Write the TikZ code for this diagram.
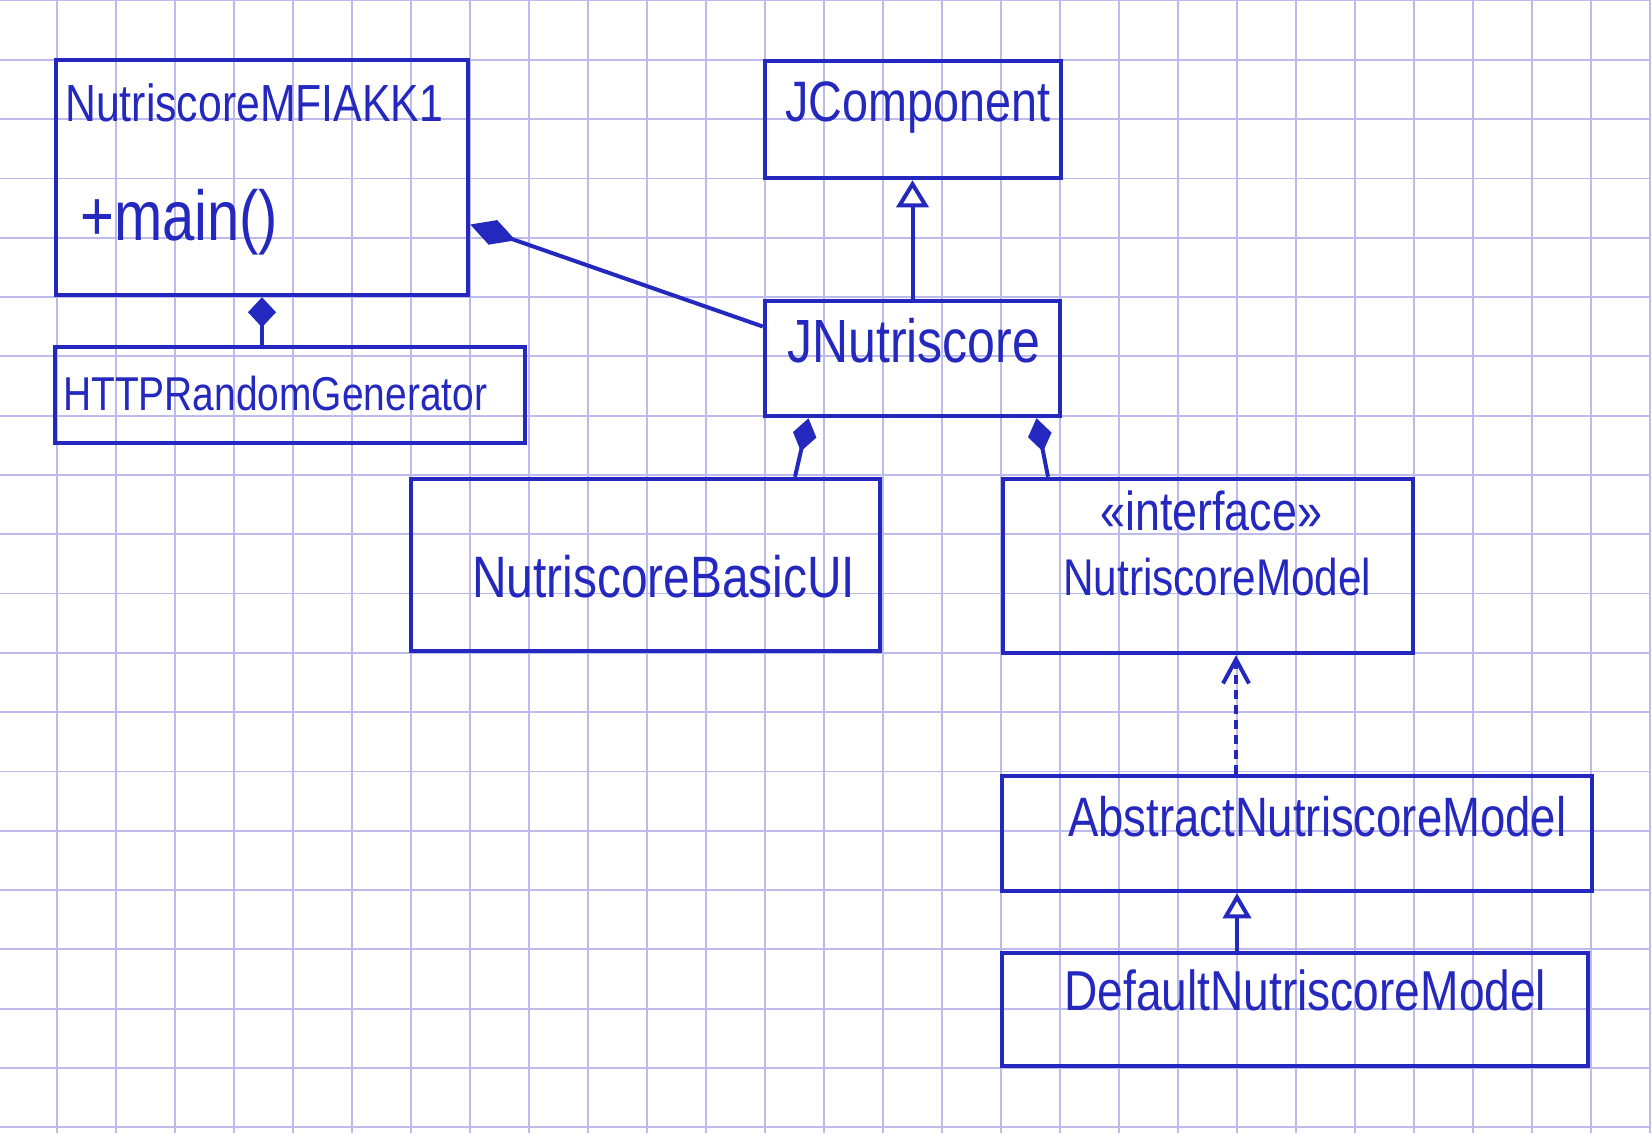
\documentclass[tikz,border=0pt]{standalone}
\usepackage{fontspec}
\setmainfont{Liberation Sans}
\usepackage{graphicx}
\usetikzlibrary{arrows.meta}
\definecolor{ink}{RGB}{36,40,190}
\definecolor{gridc}{RGB}{190,186,236}
\newcommand{\fitw}[2]{\scalebox{1}[1.22]{\resizebox{#1}{!}{#2}}}
\begin{document}
\begin{tikzpicture}[x=1pt,y=-1pt,
  umlbox/.style={draw=ink, line width=4.5pt, rectangle, inner sep=0pt},
  lbl/.style={text=ink, inner sep=0pt, anchor=base west},
  conn/.style={draw=ink, line width=4pt},
  gridline/.style={draw=gridc, line width=1.8pt}]
\fill[white] (0,0) rectangle (1651,1133);
\useasboundingbox (0,0) rectangle (1651,1133);
% squared paper
\foreach \i in {0,...,27} \draw[gridline] ({57+59*\i},0) -- ({57+59*\i},1133);
\foreach \j in {0,...,19} \draw[gridline] (0,{0.5+59.3*\j}) -- (1651,{0.5+59.3*\j});
% boxes
\node[umlbox, minimum width=412pt, minimum height=235pt] (b1) at (262,177.5) {};
\node[umlbox, minimum width=470pt, minimum height=96pt] (b2) at (290,395) {};
\node[umlbox, minimum width=296pt, minimum height=117pt] (b3) at (913,119.5) {};
\node[umlbox, minimum width=295pt, minimum height=115pt] (b4) at (912.5,358.5) {};
\node[umlbox, minimum width=469pt, minimum height=172pt] (b5) at (645.5,565) {};
\node[umlbox, minimum width=410pt, minimum height=174pt] (b6) at (1208,566) {};
\node[umlbox, minimum width=590pt, minimum height=115pt] (b7) at (1297,833.5) {};
\node[umlbox, minimum width=586pt, minimum height=113pt] (b8) at (1295,1009.5) {};
% texts
\node[lbl] (t1) at (65,121) {\fitw{378pt}{NutriscoreMFIAKK1}};
\node[lbl] (t2) at (80,240) {\fitw{198pt}{+main()}};
\node[lbl] (t3) at (63,410) {\fitw{424pt}{HTTPRandomGenerator}};
\node[lbl] (t4) at (785,121) {\fitw{265pt}{JComponent}};
\node[lbl] (t5) at (787,362) {\fitw{253pt}{JNutriscore}};
\node[lbl] (t6) at (472,597) {\fitw{383pt}{NutriscoreBasicUI}};
\node[lbl] (t7) at (1100,530) {\fitw{222pt}{«interface»}};
\node[lbl] (t8) at (1063,595) {\fitw{308pt}{NutriscoreModel}};
\node[lbl] (t9) at (1068,836) {\fitw{498pt}{AbstractNutriscoreModel}};
\node[lbl] (t10) at (1064,1010) {\fitw{482pt}{DefaultNutriscoreModel}};
% connectors
\draw[conn, {Diamond[length=30pt,width=28pt,fill=ink]}-] (b1.south) -- (b2.north -| b1.south);
\draw[conn, {Diamond[length=48pt,width=26pt,fill=ink]}-] ([yshift=-47pt]b1.east) -- ([yshift=32pt]b4.west);
\draw[conn, -{Triangle[open,length=27pt,width=32pt,fill=white]}] (b4.north) -- (b3.south -| b4.north);
\draw[conn, {Diamond[length=34pt,width=24pt,fill=ink]}-] ([xshift=-104pt]b4.south) -- ([xshift=149.5pt]b5.north);
\draw[conn, {Diamond[length=34pt,width=24pt,fill=ink]}-] ([xshift=124pt]b4.south) -- ([xshift=-160pt]b6.north);
\draw[conn, dash pattern=on 9pt off 6pt, -{Straight Barb[length=24pt,width=26pt]}] ([xshift=-61pt]b7.north) -- ([xshift=28pt]b6.south);
\draw[conn, -{Triangle[open,length=25pt,width=28pt,fill=white]}] ([xshift=-58pt]b8.north) -- ([xshift=-60pt]b7.south);
\end{tikzpicture}
\end{document}
